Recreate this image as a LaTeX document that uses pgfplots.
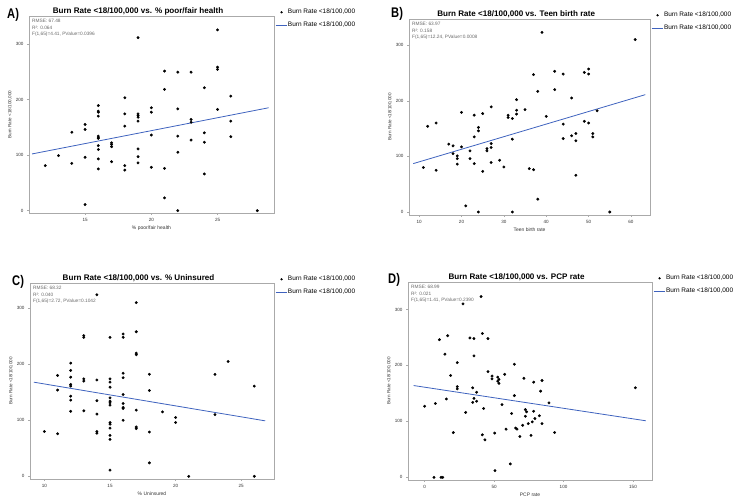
\documentclass[border=0pt]{standalone}
\usepackage{fontspec}
\setmainfont{Liberation Sans}
\usepackage{pgfplots}
\pgfplotsset{compat=1.18}
\usepackage{graphicx}

\definecolor{fitblue}{RGB}{62,98,190}
\definecolor{framegray}{RGB}{170,170,170}
\definecolor{statgray}{RGB}{105,105,105}

\pgfplotsset{
  jmp/.style={
    scale only axis, anchor=north west,
    axis line style={framegray, line width=0.5pt},
    tick align=outside, tick pos=left,
    major tick length=2bp, tick style={framegray, line width=0.4pt},
    ytick={0,100,200,300},
    /pgf/number format/assume math mode=true,
    ticklabel style={font=\fontsize{4.6}{5}\selectfont, text=black!80},
    xlabel style={font=\fontsize{5}{6}\selectfont, text=black!80, yshift=3bp},
    ylabel={Burn Rate <18/100,000},
    ylabel style={font=\fontsize{4.6}{5}\selectfont, text=black!80, yshift=-3bp},
    title style={font=\bfseries\fontsize{8.1}{9}\selectfont, at={(0.445,1)}, anchor=base, yshift=-3bp},
    legend style={at={(rel axis cs:1,1)}, anchor=north west, xshift=0bp, yshift=9bp,
      draw=none, fill=none, font=\fontsize{6.5}{7}\selectfont,
      row sep=4.6bp, inner sep=1bp, nodes={inner sep=1bp}},
    legend cell align=left,
    clip=false,
  },
  dots/.style={only marks, mark=*, mark size=1.25pt, black,
    legend image code/.code={\fill[black] (6bp,0bp) circle (0.9bp);}},
  fit/.style={fitblue, line width=0.8pt, no marks,
    legend image code/.code={\draw[##1] (0bp,0bp) -- (11bp,0bp);}},
}
\newcommand{\stats}[3]{%
  \node[anchor=north west, align=left, text=statgray, inner sep=0pt,
        font=\fontsize{4.8}{6.7}\selectfont]
    at (rel axis cs:0.012,0.985) {RMSE: #1\\R²: #2\\#3};}
\newcommand{\panel}[1]{\scalebox{0.8}[1]{\bfseries\fontsize{14}{16}\selectfont #1}}

\begin{document}
\begin{tikzpicture}
\path[use as bounding box] (0bp,0bp) rectangle (750bp,-504bp);

% Panel A: poor/fair health
\node[anchor=north west, inner sep=0pt] at (7bp,-8bp) {\panel{A)}};
\begin{axis}[jmp, at={(29bp,-16bp)}, width=245bp, height=197bp,
  xmin=10.77, xmax=29.26, ymin=-4.2, ymax=350, xtick={15,20,25},
  title={Burn Rate <18/100,000 vs. \% poor/fair health},
  xlabel={\% poor/fair health}]
\addplot[dots] table {
x y
12 81
13 99
14 141
14 85
15 155
15 146
15 96
15 11
16 189
16 179
16 177
16 170
16 134
16 131
16 130
16 117
16 110
16 93
16 75
17 122
17 119
17 115
17 88
18 203
18 174
18 152
18 81
18 73
19 311
19 174
19 171
19 168
19 161
19 111
19 97
19 86
20 185
20 177
20 136
20 78
21 251
21 218
21 76
21 23
22 249
22 183
22 134
22 105
22 0
23 249
23 164
23 159
23 127
24 221
24 140
24 123
24 66
25 325
25 258
25 254
25 182
26 206
26 161
26 133
28 0
};
\addlegendentry{Burn Rate <18/100,000}
\addplot[fit] coordinates {(11.0,102) (28.85,185)};
\addlegendentry{Burn Rate <18/100,000}
\stats{67.48}{0.064}{F(1,65)=4.41, PValue=0.0396}
\end{axis}

% Panel B: teen birth rate
\node[anchor=north west, inner sep=0pt] at (391bp,-7bp) {\panel{B)}};
\begin{axis}[jmp, at={(409bp,-19bp)}, width=241bp, height=196bp,
  xmin=7.6, xmax=64.5, ymin=-5.4, ymax=347, xtick={10,20,30,40,50,60},
  title={Burn Rate <18/100,000 vs. Teen birth rate},
  xlabel={Teen birth rate}]
\addplot[dots] table {
x y
11 80
12 154
14 160
14 75
17 122
18 119
18 105
19 101
19 96
19 86
20 179
20 117
21 11
22 110
22 96
23 174
23 135
23 87
24 152
24 146
24 0
25 177
25 73
26 114
26 110
27 189
27 123
27 116
27 89
29 93
30 81
31 174
31 170
32 168
32 131
32 0
33 202
33 183
33 176
35 184
36 78
37 247
37 76
38 217
38 23
39 323
40 172
42 253
42 220
44 248
44 158
44 132
46 205
46 137
47 141
47 128
47 66
49 251
49 163
50 257
50 248
50 160
51 141
51 135
52 182
55 0
61 310
};
\addlegendentry{Burn Rate <18/100,000}
\addplot[fit] coordinates {(8.6,87) (63.4,211)};
\addlegendentry{Burn Rate <18/100,000}
\stats{63.97}{0.158}{F(1,65)=12.24, PValue=0.0008}
\end{axis}

% Panel C: uninsured
\node[anchor=north west, inner sep=0pt] at (12bp,-275bp) {\panel{C)}};
\begin{axis}[jmp, at={(30bp,-283bp)}, width=244bp, height=196bp,
  xmin=8.9, xmax=27.5, ymin=-4.8, ymax=345, xtick={10,15,20,25},
  title={Burn Rate <18/100,000 vs. \% Uninsured},
  xlabel={\% Uninsured}]
\addplot[dots] table {
x y
10 80
11 180
11 154
11 76
12 202
12 189
12 177
12 164
12 161
12 143
12 136
12 116
13 251
13 248
13 174
13 170
13 117
14 324
14 172
14 135
14 111
14 80
14 77
15 248
15 174
15 168
15 159
15 140
15 134
15 131
15 127
15 96
15 93
15 86
15 73
15 66
15 11
16 254
16 248
16 184
16 176
16 146
16 130
16 123
16 121
16 100
17 310
17 258
17 220
17 217
17 118
17 88
17 85
18 182
18 153
18 79
18 24
19 115
20 105
20 96
21 0
23 182
23 110
24 205
26 161
26 0
};
\addlegendentry{Burn Rate <18/100,000}
\addplot[fit] coordinates {(9.19,168) (26.83,99)};
\addlegendentry{Burn Rate <18/100,000}
\stats{68.32}{0.040}{F(1,65)=2.72, PValue=0.1042}
\end{axis}

% Panel D: PCP rate
\node[anchor=north west, inner sep=0pt] at (388bp,-273bp) {\panel{D)}};
\begin{axis}[jmp, at={(408bp,-282bp)}, width=244bp, height=198bp,
  xmin=-12, xmax=163.7, ymin=-4.8, ymax=349, xtick={0,50,100,150},
  title={Burn Rate <18/100,000 vs. PCP rate},
  xlabel={PCP rate}]
\addplot[dots] table {
x y
0 127
6.7 0
7.7 132
10.6 246
11.8 0
13 0
14.6 220
15.6 140
16.6 253
18.7 182
20.6 80
23.5 205
23.5 162
23.5 158
29.5 116
27.6 310
32.6 249
34.6 160
34.6 134
35.5 248
35.5 217
35.5 141
37.4 152
37.4 136
40.6 323
41.5 257
41.5 76
42.5 123
43.4 67
45.6 248
45.6 189
48.5 181
48.5 176
50.4 79
50.6 12
52.6 179
52.6 172
53.5 175
53.5 168
55.7 130
57.6 184
58.6 86
61.7 24
62.6 114
64.6 146
64.6 202
65.5 88
66.5 86
68.6 73
70.6 93
71.5 177
72.5 121
72.5 109
73.4 117
74.6 96
76.6 75
77.5 99
78.5 118
78.5 170
79.4 105
82.6 110
83.5 154
84.5 173
84.5 96
89.5 133
93.6 80
151.7 160
};
\addlegendentry{Burn Rate <18/100,000}
\addplot[fit] coordinates {(-7.9,164) (159.3,101)};
\addlegendentry{Burn Rate <18/100,000}
\stats{68.99}{0.021}{F(1,65)=1.41, PValue=0.2390}
\end{axis}
\end{tikzpicture}
\end{document}
